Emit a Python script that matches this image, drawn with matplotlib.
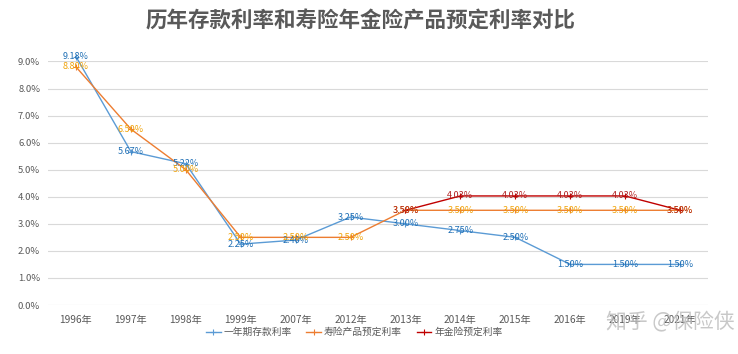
import matplotlib
matplotlib.use("Agg")
import matplotlib.pyplot as plt
import numpy as np

plt.rcParams['font.family'] = ['Noto Sans CJK SC', 'DejaVu Sans']

years = ["1996年", "1997年", "1998年", "1999年", "2007年", "2012年", "2013年",
         "2014年", "2015年", "2016年", "2019年", "2021年"]
deposit = [9.18, 5.67, 5.22, 2.25, 2.40, 3.25, 3.00, 2.75, 2.50, 1.50, 1.50, 1.50]
life = [8.80, 6.50, 5.00, 2.50, 2.50, 2.50, 3.50, 3.50, 3.50, 3.50, 3.50, 3.50]
annuity = [None, None, None, None, None, None, 3.50, 4.03, 4.03, 4.03, 4.03, 3.50]
series_names = ["一年期存款利率", "寿险产品预定利率", "年金险预定利率"]
yticks = [0, 1, 2, 3, 4, 5, 6, 7, 8, 9]

fig = plt.figure(figsize=(7.38, 3.54), dpi=100)
ax = fig.add_axes([0.0657, 0.1384, 0.893, 0.688])

x = np.arange(len(years))
line_colors = ["#5B9BD5", "#ED7D31", "#C00000"]
label_colors = ["#1F6FB5", "#F0A30A", "#B22222"]
all_series = [deposit, life, annuity]

for vals, lc, tc, name in zip(all_series, line_colors, label_colors, series_names):
    xs = [xi for xi, v in zip(x, vals) if v is not None]
    ys = [v for v in vals if v is not None]
    ax.plot(xs, ys, color=lc, lw=1.0, marker='+', ms=4, mew=0.8,
            label=name, clip_on=False, zorder=3)
    for xi, v in zip(xs, ys):
        ax.text(xi, v, f"{v:.2f}%", color=tc, fontsize=6.5, ha='center',
                va='center', zorder=4)

ax.set_xlim(-0.5, len(years) - 0.5)
ax.set_ylim(0, 9.0)
ax.set_yticks(yticks)
ax.set_yticklabels([f"{t:.1f}%" for t in yticks])
ax.set_xticks(x)
ax.set_xticklabels(years)
ax.tick_params(axis='both', length=0, colors="#595959")
ax.tick_params(axis='x', pad=7, labelsize=7.3)
ax.tick_params(axis='y', pad=6, labelsize=6.8)
ax.grid(axis='y', color="#D9D9D9", lw=0.8)
ax.set_axisbelow(True)
for s in ax.spines.values():
    s.set_visible(False)

fig.text(0.488, 0.94, "历年存款利率和寿险年金险产品预定利率对比", ha='center', va='center',
         fontsize=15.5, fontweight='bold', color="#595959")

leg = fig.legend(loc='center', bbox_to_anchor=(0.48, 0.062), ncol=3, frameon=False,
                 fontsize=7, handlelength=1.5, columnspacing=1.5, handletextpad=0.3)
for t in leg.get_texts():
    t.set_color("#595959")

fig.text(0.996, 0.09, "知乎 @保险侠", ha='right', va='center', fontsize=15,
         color="#BBBBBB", alpha=0.8)

fig.savefig("out.png", dpi=100)
